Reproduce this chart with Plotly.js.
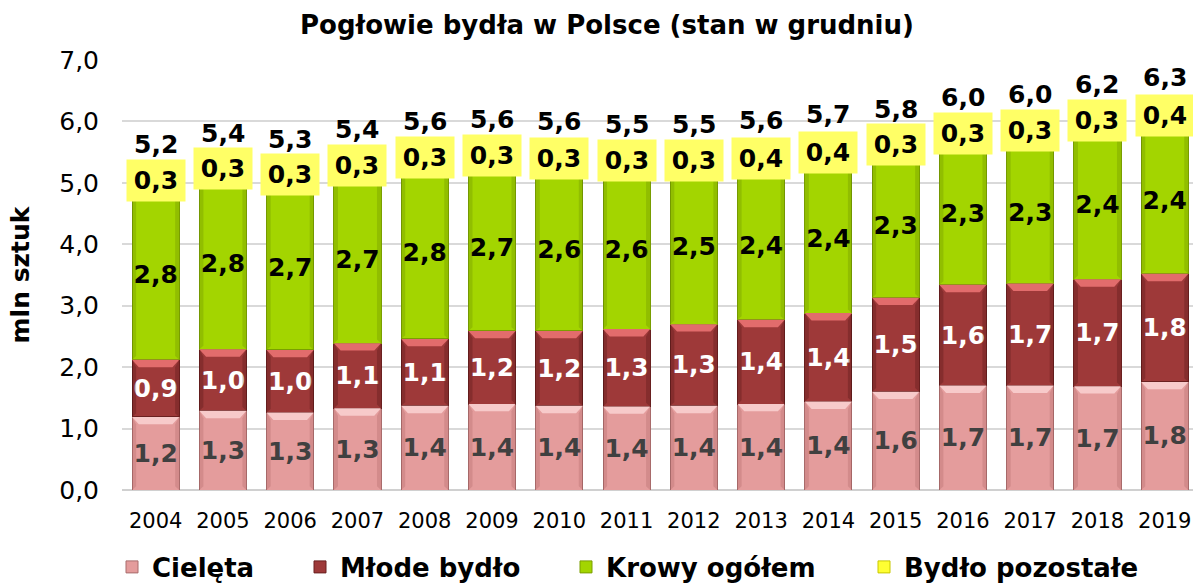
<!DOCTYPE html>
<html><head><meta charset="utf-8">
<script src="https://cdn.plot.ly/plotly-3.0.1.min.js"></script>
<style>html,body{margin:0;padding:0;background:#fff}#chart{width:1193px;height:585px}</style>
</head><body><div id="chart"></div>
<script>
// ---- data (mln sztuk) ----
const years     = [2004,2005,2006,2007,2008,2009,2010,2011,2012,2013,2014,2015,2016,2017,2018,2019];
const cieleta   = [1.19,1.29,1.26,1.33,1.37,1.40,1.37,1.36,1.37,1.40,1.44,1.60,1.70,1.70,1.69,1.76];
const mlode     = [0.93,1.00,1.02,1.06,1.09,1.19,1.22,1.26,1.33,1.37,1.44,1.53,1.64,1.66,1.74,1.76];
const krowy     = [2.77,2.79,2.70,2.74,2.80,2.71,2.64,2.60,2.52,2.43,2.42,2.34,2.32,2.33,2.44,2.39];
const pozostale = [0.30,0.30,0.30,0.30,0.30,0.30,0.34,0.30,0.30,0.38,0.38,0.30,0.30,0.32,0.30,0.38];
const seriesNames = ['Cielęta','Młode bydło','Krowy ogółem','Bydło pozostałe'];

const FONT = 'DejaVu Sans, Verdana, sans-serif';
const fmt = v => v.toFixed(1).replace('.', ',');

const c1 = years.map((_, i) => cieleta[i]);
const c2 = years.map((_, i) => c1[i] + mlode[i]);
const c3 = years.map((_, i) => c2[i] + krowy[i]);
const total = years.map((_, i) => c3[i] + pozostale[i]);

function barTrace(name, y, color, lineColor, textColor, legendId, showText) {
  return {
    type: 'bar', name: name, x: years, y: y,
    marker: {color: color, line: {color: lineColor, width: 1}},
    texttemplate: showText ? '%{y:.1f}' : '',
    textposition: showText ? 'inside' : 'none',
    insidetextanchor: 'middle',
    textangle: 0,
    constraintext: 'none',
    textfont: {family: FONT, size: 25, color: textColor, weight: 'bold'},
    hoverinfo: 'skip',
    legend: legendId
  };
}

const data = [
  barTrace(seriesNames[0], cieleta, '#E49C9C', '#A96C6C', '#404040', 'legend', true),
  barTrace(seriesNames[1], mlode, '#9E3939', '#6A2020', '#FFFFFF', 'legend2', true),
  barTrace(seriesNames[2], krowy, '#A3D500', '#7A9F00', '#000000', 'legend3', true),
  barTrace(seriesNames[3], pozostale, '#FFFF33', '#C8C800', '#000000', 'legend4', false)
];

// bevel shapes (drawn in data coordinates of the axes)
const W = 0.7, DX = 0.1, DY = 0.12;
const shapes = [];
const segs = [
  {bot: years.map(() => 0), top: c1, light: '#F7CACA', side: 'rgba(150,80,80,0.22)'},
  {bot: c1, top: c2, light: '#E26C6C', side: 'rgba(60,10,10,0.25)'},
  {bot: c2, top: c3, light: '#B9E62E', side: 'rgba(80,110,0,0.22)'}
];
segs.forEach(s => {
  years.forEach((x, i) => {
    const l = x - W / 2, r = x + W / 2, t = s.top[i], b = s.bot[i];
    shapes.push({type: 'path', xref: 'x', yref: 'y', layer: 'above', line: {width: 0}, fillcolor: s.light,
      path: `M${l},${t} L${r},${t} L${r - DX},${t - DY} L${l + DX},${t - DY} Z`});
    shapes.push({type: 'path', xref: 'x', yref: 'y', layer: 'above', line: {width: 0}, fillcolor: s.side,
      path: `M${l},${t} L${l + DX * 0.6},${t - DY} L${l + DX * 0.6},${b + DY * 0.5} L${l},${b} Z`});
    shapes.push({type: 'path', xref: 'x', yref: 'y', layer: 'above', line: {width: 0}, fillcolor: s.side,
      path: `M${r},${t} L${r - DX * 0.6},${t - DY} L${r - DX * 0.6},${b + DY * 0.5} L${r},${b} Z`});
  });
});

const annotations = [];
years.forEach((x, i) => {
  annotations.push({x: x, y: c3[i] + pozostale[i] / 2, xref: 'x', yref: 'y', text: fmt(pozostale[i]),
    showarrow: false, bgcolor: '#FFFF66', borderpad: 5, width: 48, height: 31,
    font: {family: FONT, size: 25, color: '#000', weight: 'bold'}});
  annotations.push({x: x, y: total[i], xref: 'x', yref: 'y', text: fmt(total[i]),
    showarrow: false, yanchor: 'bottom', yshift: 10,
    font: {family: FONT, size: 25, color: '#000', weight: 'bold'}});
});

function leg(px) {
  return {orientation: 'h', xref: 'container', yref: 'container', x: px / 1193, y: 1 - 567 / 585,
    xanchor: 'left', yanchor: 'middle', bgcolor: 'rgba(0,0,0,0)',
    font: {family: FONT, size: 26, color: '#000', weight: 'bold'}};
}

const layout = {
  width: 1193, height: 585,
  margin: {l: 122, r: 0, t: 60, b: 95},
  paper_bgcolor: '#fff', plot_bgcolor: '#fff',
  separators: ', ',
  barmode: 'stack', bargap: 0.3,
  title: {text: 'Pogłowie bydła w Polsce (stan w grudniu)', xref: 'container', yref: 'container',
    x: 607 / 1193, xanchor: 'center', y: 1 - 25 / 585, yanchor: 'middle',
    font: {family: FONT, size: 26, color: '#000', weight: 'bold'}},
  xaxis: {range: [2003.5, 2019.42], tickmode: 'array', tickvals: years, ticktext: years.map(String),
    showgrid: false, zeroline: false, showline: false, ticks: '', ticklabelstandoff: 16,
    tickfont: {family: FONT, size: 21, color: '#000'}, fixedrange: true},
  yaxis: {range: [0, 7], dtick: 1, tickformat: '.1f', showgrid: true, gridcolor: '#D9D9D9', gridwidth: 2,
    zeroline: true, zerolinecolor: '#D0D0D0', zerolinewidth: 2, showline: false, ticks: '',
    ticklabelstandoff: 22, tickfont: {family: FONT, size: 25, color: '#000'},
    title: {text: 'mln sztuk', standoff: 22, font: {family: FONT, size: 25, color: '#000', weight: 'bold'}},
    fixedrange: true},
  showlegend: true,
  legend: leg(112), legend2: leg(300), legend3: leg(566), legend4: leg(864),
  shapes: shapes,
  annotations: annotations
};

Plotly.newPlot('chart', data, layout, {staticPlot: true, displayModeBar: false});
</script>
</body></html>
